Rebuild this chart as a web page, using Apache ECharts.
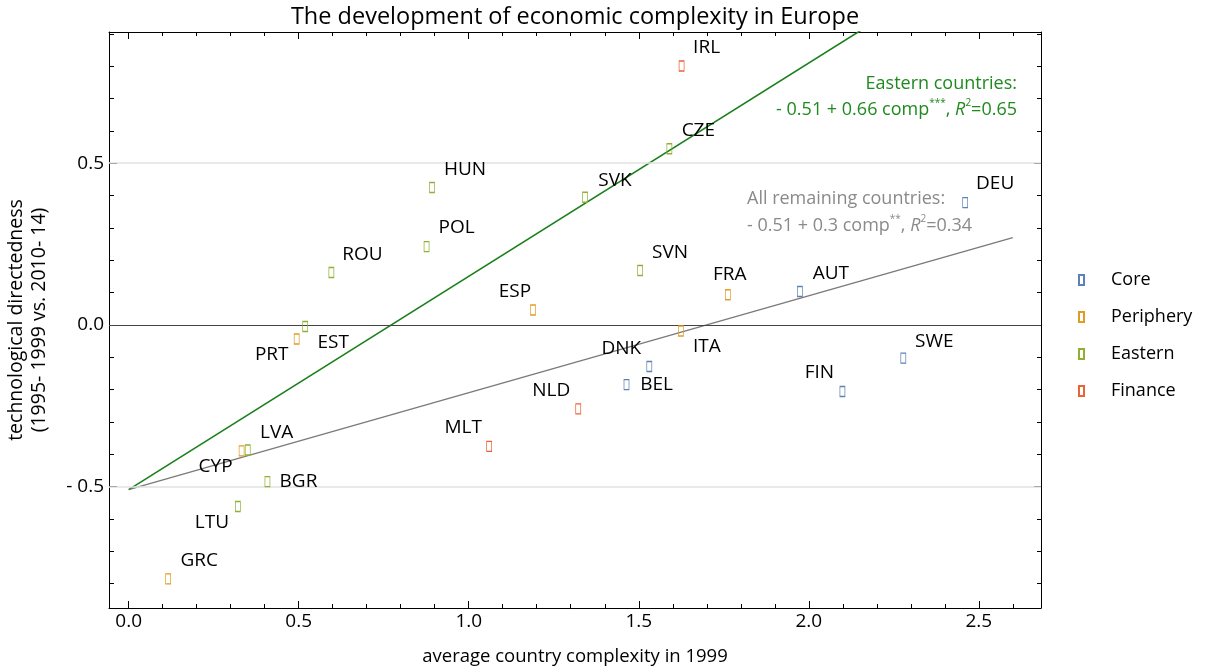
<!DOCTYPE html>
<html>
<head>
<meta charset="utf-8">
<script src="https://cdn.jsdelivr.net/npm/echarts@6/dist/echarts.min.js"></script>
<style>
html,body{margin:0;padding:0;background:#fff;}
#chart{width:1205px;height:668px;}
</style>
</head>
<body>
<div id="chart"></div>
<script>
// ---- data ----
const countries = ['IRL','CZE','HUN','SVK','POL','ROU','SVN','DEU','FRA','AUT','ESP','EST','PRT','ITA','DNK','BEL','SWE','FIN','NLD','MLT','CYP','LVA','BGR','LTU','GRC'];
const groups = ['Finance','Eastern','Eastern','Eastern','Eastern','Eastern','Eastern','Core','Periphery','Core','Periphery','Eastern','Periphery','Periphery','Core','Core','Core','Core','Finance','Finance','Periphery','Eastern','Eastern','Eastern','Periphery'];
const complexity = [1.626,1.590,0.892,1.342,0.876,0.596,1.504,2.460,1.762,1.974,1.189,0.519,0.494,1.624,1.531,1.464,2.278,2.099,1.322,1.060,0.332,0.350,0.408,0.321,0.116];
const directedness = [0.801,0.545,0.425,0.395,0.242,0.162,0.168,0.378,0.093,0.103,0.046,-0.005,-0.044,-0.019,-0.129,-0.185,-0.103,-0.206,-0.260,-0.376,-0.390,-0.387,-0.485,-0.562,-0.786];
const groupNames = ['Core','Periphery','Eastern','Finance'];
const easternFit = [[0,-0.51],[2.2,0.942]];
const remainingFit = [[0,-0.51],[2.6,0.27]];
const xMajorTicks = [0,0.5,1,1.5,2,2.5];
const xMinorTicks = [0.1,0.2,0.3,0.4,0.6,0.7,0.8,0.9,1.1,1.2,1.3,1.4,1.6,1.7,1.8,1.9,2.1,2.2,2.3,2.4,2.6];
const yMajorTicks = [-0.5,0,0.5];
const yMinorTicks = [-0.8,-0.7,-0.6,-0.4,-0.3,-0.2,-0.1,0.1,0.2,0.3,0.4,0.6,0.7,0.8,0.9];
const gridValues = [0.5,-0.5];

// ---- layout / style ----
const colors = {Core:'#5E81B5', Periphery:'#E19C24', Eastern:'#8FB032', Finance:'#EB6235'};
const labelOffsets = {
  IRL:[25,-18], CZE:[29,-18], HUN:[33,-18], SVK:[30,-17], POL:[30,-19], ROU:[31,-18],
  SVN:[30,-18], DEU:[30,-19], FRA:[2,-20], AUT:[31,-18], ESP:[-18,-18], EST:[28,16],
  PRT:[-25,16], ITA:[26,16], DNK:[-28,-18], BEL:[30,0], SWE:[31,-17], FIN:[-23,-19],
  NLD:[-27,-18], MLT:[-26,-19], CYP:[-26,16], LVA:[29,-17], BGR:[31,0], LTU:[-26,16], GRC:[31,-18]
};
const FONT = '"Open Sans", "Noto Sans", sans-serif';
const X_MIN = -0.058, X_MAX = 2.683, Y_MIN = -0.876, Y_MAX = 0.906;

const chart = echarts.init(document.getElementById('chart'), null, {renderer:'canvas'});

function scatterSeries(g){
  const data = [];
  countries.forEach((c,i)=>{
    if(groups[i]!==g) return;
    data.push({value:[complexity[i], directedness[i]], name:c,
      label:{offset:labelOffsets[c]}});
  });
  return {
    name:g, type:'scatter', xAxisIndex:0, yAxisIndex:0,
    symbol:'rect', symbolSize:[5,10], z:5,
    itemStyle:{color:'rgba(255,255,255,0)', borderColor:colors[g], borderWidth:1, opacity:1},
    label:{show:true, position:'inside', formatter:p=>p.name, color:'#000',
      fontFamily:FONT, fontSize:19},
    emphasis:{disabled:true},
    data
  };
}

function xAxisDef(pos, ticks, len, major){
  return {
    type:'value', position:pos, min:X_MIN, max:X_MAX, scale:true,
    axisLine:{show:major, onZero:false, lineStyle:{color:'#000', width:1}},
    axisTick:{show:true, inside:true, length:len, customValues:ticks, lineStyle:{color:'#000', width:1}},
    axisLabel:{show:major && pos==='bottom', customValues:ticks, formatter:v=>v.toFixed(1),
      color:'#000', fontFamily:FONT, fontSize:19, margin:4},
    splitLine:{show:false}
  };
}
function yAxisDef(pos, ticks, len, major){
  return {
    type:'value', position:pos, min:Y_MIN, max:Y_MAX, scale:true,
    axisLine:{show:major, onZero:false, lineStyle:{color:'#000', width:1}},
    axisTick:{show:true, inside:true, length:len, customValues:ticks, lineStyle:{color:'#000', width:1}},
    axisLabel:{show:major && pos==='left', customValues:ticks,
      formatter:v=> v<0 ? '- '+Math.abs(v).toFixed(1) : v.toFixed(1),
      color:'#000', fontFamily:FONT, fontSize:19, margin:5},
    splitLine:{show:false}
  };
}

const xAxes = [
  xAxisDef('bottom', xMajorTicks, 7, true),
  xAxisDef('bottom', xMinorTicks, 4, false),
  xAxisDef('top', xMajorTicks, 7, true),
  xAxisDef('top', xMinorTicks, 4, false)
];
xAxes[0].name = 'average country complexity in 1999';
xAxes[0].nameLocation = 'middle';
xAxes[0].nameGap = 39;
xAxes[0].nameTextStyle = {color:'#000', fontFamily:FONT, fontSize:18.5};

const yAxes = [
  yAxisDef('left', yMajorTicks, 8, true),
  yAxisDef('left', yMinorTicks, 5, false),
  yAxisDef('right', yMajorTicks, 7, true),
  yAxisDef('right', yMinorTicks, 4, false)
];
yAxes[0].name = 'technological directedness\n(1995- 1999 vs. 2010- 14)';
yAxes[0].nameLocation = 'middle';
yAxes[0].nameGap = 58;
yAxes[0].nameTextStyle = {color:'#000', fontFamily:FONT, fontSize:19.5, lineHeight:23};

const richBase = {fontFamily:FONT, fontSize:18, lineHeight:24};
function eqRich(color){
  return {
    a:Object.assign({fill:color}, richBase),
    s:{fill:color, fontFamily:FONT, fontSize:10, lineHeight:10, verticalAlign:'top'},
    i:Object.assign({fill:color, fontStyle:'italic'}, richBase)
  };
}

const option = {
  animation:false,
  backgroundColor:'#fff',
  grid:{left:109, right:164, top:32, bottom:60, containLabel:false, outerBoundsMode:'none'},
  xAxis:xAxes,
  yAxis:yAxes,
  legend:{
    orient:'vertical', left:1078, top:270, padding:0, itemGap:17,
    itemWidth:5, itemHeight:10, data:groupNames,
    textStyle:{color:'#000', fontFamily:FONT, fontSize:18, lineHeight:20, padding:[0,0,0,22]}
  },
  graphic:[
    {type:'text', x:575, y:17, style:{text:'The development of economic complexity in Europe',
      align:'center', verticalAlign:'middle', fill:'#000', font:'23.5px '+FONT}},
    {type:'text', x:1017, y:84, style:{text:'Eastern countries:', align:'right', verticalAlign:'middle',
      fill:'#1f8a1f', font:'18px '+FONT}},
    {type:'text', x:1017, y:110, style:{text:'{a|- 0.51 + 0.66 comp}{s|***}{a|, }{i|R}{s|2}{a|=0.65}',
      align:'right', verticalAlign:'middle', rich:eqRich('#1f8a1f')}},
    {type:'text', x:747, y:199, style:{text:'All remaining countries:', align:'left', verticalAlign:'middle',
      fill:'#8a8a8a', font:'18px '+FONT}},
    {type:'text', x:747, y:226, style:{text:'{a|- 0.51 + 0.3 comp}{s|**}{a|, }{i|R}{s|2}{a|=0.34}',
      align:'left', verticalAlign:'middle', rich:eqRich('#8a8a8a')}}
  ],
  series:[
    {type:'line', name:'gridlines', xAxisIndex:0, yAxisIndex:0, data:[], silent:true,
      markLine:{silent:true, symbol:['none','none'], label:{show:false},
        lineStyle:{color:'#e2e2e2', width:1.5, type:'solid'},
        data:gridValues.map(v=>({yAxis:v}))}},
    {type:'line', name:'zero', xAxisIndex:0, yAxisIndex:0, data:[], silent:true,
      markLine:{silent:true, symbol:['none','none'], label:{show:false},
        lineStyle:{color:'#444', width:1.2, type:'solid'},
        data:[{yAxis:0}]}},
    {type:'line', name:'Eastern fit', xAxisIndex:0, yAxisIndex:0, data:easternFit, showSymbol:false,
      symbol:'none', clip:true, z:3, lineStyle:{color:'#1a7f1a', width:1.6}, silent:true},
    {type:'line', name:'Remaining fit', xAxisIndex:0, yAxisIndex:0, data:remainingFit, showSymbol:false,
      symbol:'none', clip:true, z:3, lineStyle:{color:'#7a7a7a', width:1.4}, silent:true},
    ...groupNames.map(scatterSeries)
  ]
};
chart.setOption(option);
</script>
</body>
</html>
